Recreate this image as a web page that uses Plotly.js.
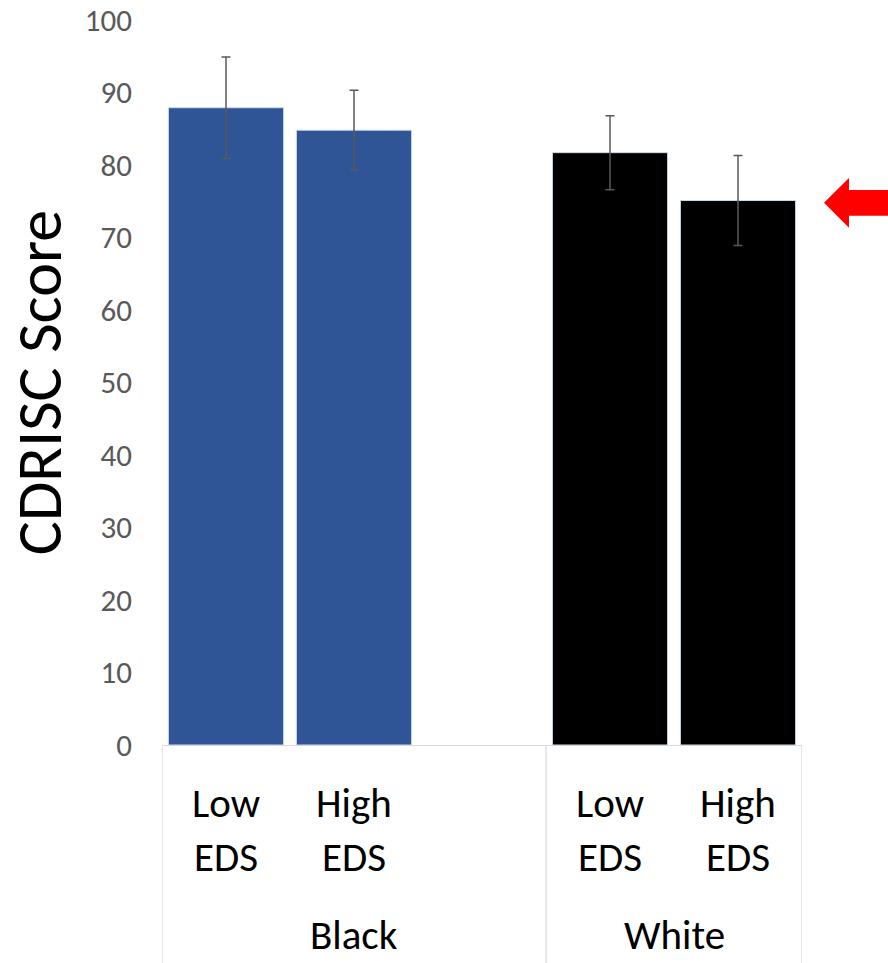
<!DOCTYPE html>
<html>
<head>
<meta charset="utf-8">
<script src="https://cdn.plot.ly/plotly-3.0.1.min.js"></script>
<style>html,body{margin:0;padding:0;background:#fff;}#chart{width:888px;height:963px;}</style>
</head>
<body>
<div id="chart"></div>
<script>
// ---- data ----
const groups = ["Black", "White"];
const levels = ["Low", "High"];
const levelSuffix = "EDS";
const blackScores = [87.9, 84.8];
const blackErr = [7.0, 5.5];
const whiteScores = [81.7, 75.1];
const whiteErr = [5.1, 6.2];
const yTicks = [0, 10, 20, 30, 40, 50, 60, 70, 80, 90, 100];
const yTitle = "CDRISC Score";

// ---- build ----
const FONT = "Calibri, Carlito, Lato, sans-serif";
const blackCats = levels.map(l => groups[0] + " " + l).concat([groups[0] + " gap"]);
const whiteCats = levels.map(l => groups[1] + " " + l);
const allCats = blackCats.concat(whiteCats);

const barStyle = (color) => ({color: color, line: {color: "#c9d9ee", width: 1}});
const errStyle = (arr) => ({type: "data", array: arr, visible: true, color: "#595959", thickness: 1.5, width: 4.5});

const traces = [
  {type: "bar", name: groups[0], x: blackCats, y: blackScores.concat([null]),
   error_y: errStyle(blackErr.concat([0])), marker: barStyle("#2f5597"), width: 0.9, hoverinfo: "x+y"},
  {type: "bar", name: groups[1], x: whiteCats, y: whiteScores,
   error_y: errStyle(whiteErr), marker: barStyle("#000000"), width: 0.9, hoverinfo: "x+y"}
];

const LBL = 41;
const annotations = [];
const labelIdx = [0, 1, 3, 4];
labelIdx.forEach((idx, k) => {
  const lvl = levels[k % levels.length];
  annotations.push({xref: "x", yref: "paper", x: idx, y: -0.08, text: lvl, showarrow: false,
    xanchor: "center", yanchor: "middle", font: {family: FONT, size: LBL, color: "#000"}});
  annotations.push({xref: "x", yref: "paper", x: idx, y: -0.155, text: levelSuffix, showarrow: false,
    xanchor: "center", yanchor: "middle", font: {family: FONT, size: LBL, color: "#000"}});
});
// group labels, centred in each group span
const groupSpans = [[-0.5, blackCats.length - 0.5], [blackCats.length - 0.5, allCats.length - 0.5]];
groups.forEach((g, i) => {
  annotations.push({xref: "x", yref: "paper", x: (groupSpans[i][0] + groupSpans[i][1]) / 2, y: -0.2985,
    text: g, showarrow: false, xanchor: "center", yanchor: "bottom", borderpad: 0,
    font: {family: FONT, size: 41, color: "#000"}});
});

const shapes = [];
// dividers
[groupSpans[0][0], groupSpans[0][1], groupSpans[1][1]].forEach(v => {
  shapes.push({type: "line", xref: "x", yref: "paper", x0: v, x1: v, y0: 0, y1: -0.31,
    line: {color: "#d9d9d9", width: 1.3}});
});
// red arrow pointing at the White / High EDS bar
shapes.push({type: "path", xref: "paper", yref: "paper",
  path: "M 1.0344,0.748 L 1.0734,0.782 L 1.0734,0.7655 L 1.25,0.7655 L 1.25,0.730 L 1.0734,0.730 L 1.0734,0.7135 Z",
  fillcolor: "#ff0000", line: {width: 0}});

const layout = {
  width: 888, height: 963,
  margin: {l: 162, r: 86, t: 20, b: 218},
  paper_bgcolor: "#fff", plot_bgcolor: "#fff",
  showlegend: false,
  barmode: "overlay",
  font: {family: FONT},
  xaxis: {type: "category", range: [-0.5, allCats.length - 0.5], showticklabels: false,
    showgrid: false, zeroline: false, showline: true, linecolor: "#d9d9d9", linewidth: 1.3, ticks: "",
    fixedrange: true},
  yaxis: {range: [0, 100], tickvals: yTicks, showgrid: false, zeroline: false, showline: false,
    ticks: "", ticklabelstandoff: 29,
    tickfont: {family: FONT, size: 31, color: "#595959"},
    title: {text: yTitle, font: {family: FONT, size: 64, color: "#000"}, standoff: 12},
    fixedrange: true},
  annotations: annotations,
  shapes: shapes
};

Plotly.newPlot("chart", traces, layout, {displayModeBar: false, staticPlot: true});
</script>
</body>
</html>
